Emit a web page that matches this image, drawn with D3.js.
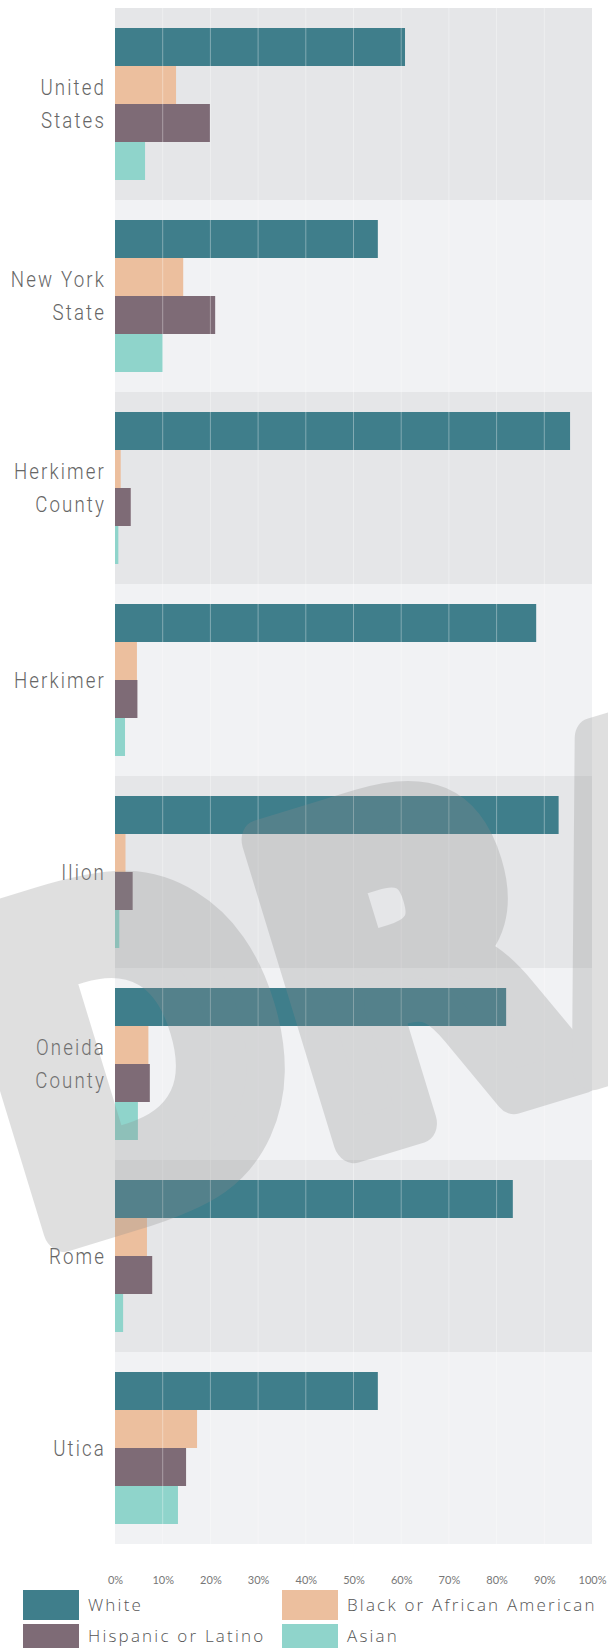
<!DOCTYPE html>
<html>
<head>
<meta charset="utf-8">
<script src="https://cdn.jsdelivr.net/npm/d3@7"></script>
<style>
  body { margin: 0; background: #fff; }
  svg { display: block; }
</style>
</head>
<body>
<div id="chart"></div>
<script>
// Data (percent of population)
const places = ["United States", "New York State", "Herkimer County", "Herkimer", "Ilion", "Oneida County", "Rome", "Utica"];
const placeLines = [["United", "States"], ["New York", "State"], ["Herkimer", "County"], ["Herkimer"], ["Ilion"], ["Oneida", "County"], ["Rome"], ["Utica"]];
const groups = ["White", "Black or African American", "Hispanic or Latino", "Asian"];
const white = [60.8, 55.1, 95.4, 88.3, 93.0, 82.0, 83.4, 55.1];
const black = [12.8, 14.3, 1.2, 4.6, 2.2, 7.0, 6.7, 17.2];
const hispanic = [19.9, 21.0, 3.3, 4.7, 3.7, 7.3, 7.8, 14.9];
const asian = [6.3, 10.0, 0.7, 2.1, 0.9, 4.8, 1.7, 13.2];
const tickValues = [0, 10, 20, 30, 40, 50, 60, 70, 80, 90, 100];
const colors = ["#3f7e8b", "#ecbf9e", "#7e6b76", "#8fd4cb"];

function raceBars (chartDiv) {

    const width = 608
    const height = 1648

    const series = [white, black, hispanic, asian];
    const rows = places.map((p, i) => ({
        place: p,
        lines: placeLines[i],
        values: groups.map((g, j) => ({ group: g, value: series[j][i] }))
    }));

    const svg = d3.select(chartDiv)
        .append("svg")
        .attr("width", width)
        .attr("height", height);

    // scales
    const x = d3.scaleLinear().domain([0, 100]).range([115, 592]);
    const y = d3.scaleBand().domain(places).range([8, 1544]);
    const inner = d3.scaleBand().domain(groups).range([20, y.bandwidth() - 20]);
    const color = d3.scaleOrdinal().domain(groups).range(colors);

    // alternating background bands
    svg.selectAll(".band")
        .data(rows)
        .enter()
        .append("rect")
        .attr("x", x(0))
        .attr("y", d => y(d.place))
        .attr("width", x(100) - x(0))
        .attr("height", y.bandwidth())
        .style("fill", (d, i) => i % 2 === 0 ? "#e5e6e8" : "#f1f2f4");

    // bars
    const groupG = svg.selectAll(".place")
        .data(rows)
        .enter()
        .append("g")
        .attr("transform", d => `translate(0,${y(d.place)})`);

    groupG.selectAll("rect")
        .data(d => d.values)
        .enter()
        .append("rect")
        .attr("x", x(0))
        .attr("y", d => inner(d.group))
        .attr("width", d => x(d.value) - x(0))
        .attr("height", inner.bandwidth())
        .style("fill", d => color(d.group));

    // faint white gridlines over everything
    svg.selectAll(".grid")
        .data(tickValues.slice(1, -1))
        .enter()
        .append("line")
        .attr("x1", d => x(d))
        .attr("x2", d => x(d))
        .attr("y1", y.range()[0])
        .attr("y2", y.range()[1])
        .style("stroke", "#fff")
        .style("stroke-opacity", 0.35)
        .style("stroke-width", 1);

    // place labels (narrow, light)
    const sx = 0.85;
    groupG.each(function (d) {
        const n = d.lines.length;
        const mid = y.bandwidth() / 2;
        d3.select(this).selectAll(".lbl")
            .data(d.lines)
            .enter()
            .append("text")
            .attr("transform", `scale(${sx},1)`)
            .attr("x", 106 / sx)
            .attr("y", (t, k) => mid + (k - (n - 1) / 2) * 33)
            .attr("dy", "0.36em")
            .attr("text-anchor", "end")
            .style("font-family", "Roboto, sans-serif")
            .style("font-weight", 300)
            .style("font-size", "22px")
            .style("letter-spacing", "2.5px")
            .style("fill", "#666")
            .text(t => t);
    });

    // x axis labels
    const axis = svg.append("g")
        .attr("transform", "translate(0,1580)")
        .call(d3.axisBottom(x).tickValues(tickValues).tickFormat(d => d + "%").tickSize(0));
    axis.select(".domain").remove();
    axis.selectAll("text")
        .attr("y", 0)
        .attr("dy", "0.35em")
        .style("font-family", "Lato, sans-serif")
        .style("font-weight", 400)
        .style("font-size", "11px")
        .style("fill", "#777");

    // legend
    const legend = svg.selectAll(".legend")
        .data(groups)
        .enter()
        .append("g")
        .attr("transform", (d, i) => `translate(${i % 2 === 0 ? 23 : 282},${i < 2 ? 1590 : 1624})`);

    legend.append("rect")
        .attr("width", 56)
        .attr("height", 30)
        .style("fill", d => color(d));

    legend.append("text")
        .attr("x", 65)
        .attr("y", (d, i) => i < 2 ? 15 : 12)
        .attr("dy", "0.36em")
        .style("font-family", "'Open Sans', sans-serif")
        .style("font-weight", 300)
        .style("font-size", "17px")
        .style("letter-spacing", "2.2px")
        .style("fill", "#555")
        .text(d => d);

    // DRAFT watermark
    svg.append("text")
        .attr("transform", "translate(30,1240) rotate(-17) scale(0.85,1)")
        .style("font-family", "DejaVu Sans, sans-serif")
        .style("font-weight", 700)
        .style("font-size", "430px")
        .style("fill", "#8c8c8c")
        .style("stroke", "#8c8c8c")
        .style("stroke-width", 44)
        .style("stroke-linejoin", "round")
        .style("opacity", 0.27)
        .text("DRAFT");
}

document.addEventListener("DOMContentLoaded", function() {
    raceBars("#chart");
});
</script>
</body>
</html>
